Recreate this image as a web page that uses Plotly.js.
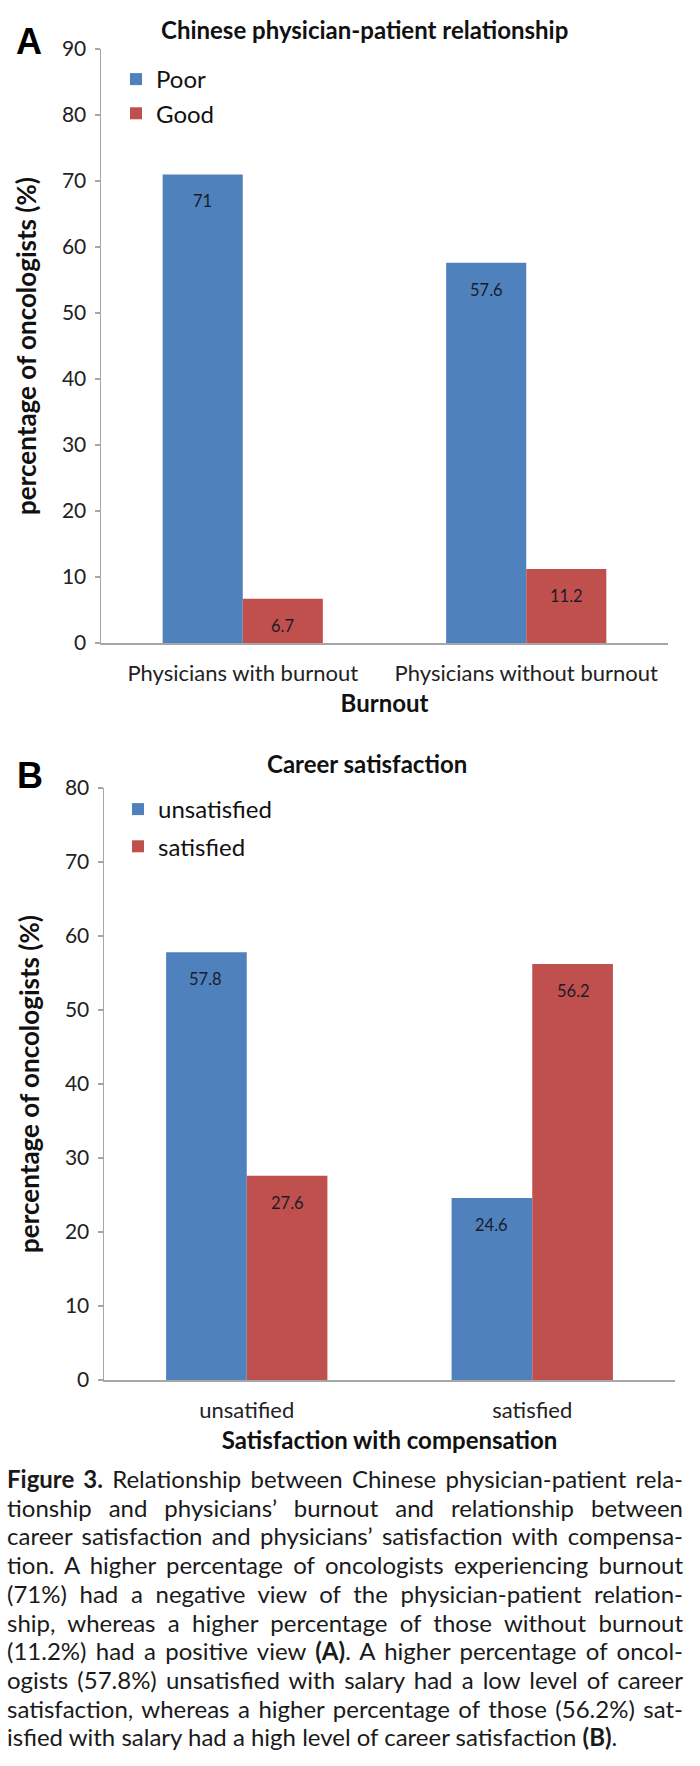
<!DOCTYPE html>
<html>
<head>
<meta charset="utf-8">
<script src="https://cdn.plot.ly/plotly-3.0.1.min.js"></script>
<style>
  html, body { margin: 0; padding: 0; background: #fff; }
  #wrap { position: relative; width: 700px; height: 1766px; }
  #chart { position: absolute; left: 0; top: 0; width: 700px; height: 1766px; }
  #caption { position: absolute; left: 7px; top: 1465px; width: 676px;
    font-family: Lato, "Open Sans", sans-serif; font-size: 24px; line-height: 28.7px; color: #1a1a1a; }
  #caption div { text-align: justify; text-align-last: justify; white-space: nowrap; }
  #caption div.last { text-align-last: left; }
</style>
</head>
<body>
<div id="wrap">
  <div id="chart"></div>
  <div id="caption">
    <div><b>Figure 3.</b> Relationship between Chinese physician-patient rela-</div>
    <div>tionship and physicians’ burnout and relationship between</div>
    <div>career satisfaction and physicians’ satisfaction with compensa-</div>
    <div>tion. A higher percentage of oncologists experiencing burnout</div>
    <div>(71%) had a negative view of the physician-patient relation-</div>
    <div>ship, whereas a higher percentage of those without burnout</div>
    <div>(11.2%) had a positive view <b>(A)</b>. A higher percentage of oncol-</div>
    <div>ogists (57.8%) unsatisfied with salary had a low level of career</div>
    <div>satisfaction, whereas a higher percentage of those (56.2%) sat-</div>
    <div class="last">isfied with salary had a high level of career satisfaction <b>(B)</b>.</div>
  </div>
</div>
<script>
// Panel A data
const categoriesA = ["Physicians with burnout", "Physicians without burnout"];
const poorA = [71, 57.6];
const goodA = [6.7, 11.2];
const seriesNamesA = ["Poor", "Good"];

// Panel B data
const categoriesB = ["unsatified", "satisfied"];
const unsatisfiedB = [57.8, 24.6];
const satisfiedB = [27.6, 56.2];
const seriesNamesB = ["unsatisfied", "satisfied"];

const BLUE = "#4F81BD";
const RED = "#C0504D";
const FONT = "Lato, 'Open Sans', sans-serif";
const H = 1766, W = 700;
const py = p => 1 - p / H;
const px = p => p / W;

const traces = [
  { type: "bar", x: categoriesA, y: poorA, name: seriesNamesA[0], marker: { color: BLUE },
    xaxis: "x", yaxis: "y", legend: "legend", legendgroup: "a1", hoverinfo: "y" },
  { type: "bar", x: categoriesA, y: goodA, name: seriesNamesA[1], marker: { color: RED },
    xaxis: "x", yaxis: "y", legend: "legend", legendgroup: "a2", hoverinfo: "y" },
  { type: "bar", x: categoriesB, y: unsatisfiedB, name: seriesNamesB[0], marker: { color: BLUE },
    xaxis: "x2", yaxis: "y2", legend: "legend2", legendgroup: "b1", hoverinfo: "y" },
  { type: "bar", x: categoriesB, y: satisfiedB, name: seriesNamesB[1], marker: { color: RED },
    xaxis: "x2", yaxis: "y2", legend: "legend2", legendgroup: "b2", hoverinfo: "y" }
];

// value labels inside the top of each bar
const annotations = [];
function addLabels(cats, vals, xref, yref, shift) {
  cats.forEach((c, i) => {
    annotations.push({ x: c, y: vals[i], xref: xref, yref: yref, text: String(vals[i]),
      xanchor: "center", yanchor: "middle",
      showarrow: false, xshift: shift, yshift: -27, font: { family: FONT, size: 16.5, color: "#1b1b2a" } });
  });
}
addLabels(categoriesA, poorA, "x", "y", -40);
addLabels(categoriesA, goodA, "x", "y", 40);
addLabels(categoriesB, unsatisfiedB, "x2", "y2", -41);
addLabels(categoriesB, satisfiedB, "x2", "y2", 41);

// panel titles and letters
const titleFont = { family: FONT, size: 24, color: "#111" };
const letterFont = { family: "Liberation Sans, Arial, sans-serif", size: 36, color: "#000" };
annotations.push(
  { text: "<b>Chinese physician-patient relationship</b>", xref: "paper", yref: "paper",
    x: px(364), y: py(30), xanchor: "center", yanchor: "middle", showarrow: false, font: titleFont },
  { text: "<b>Career satisfaction</b>", xref: "paper", yref: "paper",
    x: px(367), y: py(764), xanchor: "center", yanchor: "middle", showarrow: false, font: titleFont },
  { text: "<b>A</b>", xref: "paper", yref: "paper", x: px(29), y: py(41),
    xanchor: "center", yanchor: "middle", showarrow: false, font: letterFont },
  { text: "<b>B</b>", xref: "paper", yref: "paper", x: px(30), y: py(775),
    xanchor: "center", yanchor: "middle", showarrow: false, font: letterFont }
);

const yAxisCommon = {
  showline: true, linecolor: "#A6A6A6", linewidth: 1.5, ticks: "outside", ticklen: 5,
  tickcolor: "#A6A6A6", tickwidth: 1.5, showgrid: false, zeroline: false, dtick: 10,
  tickfont: { family: FONT, size: 21, color: "#222" }, ticklabelstandoff: 4,
  title: { text: "<b>percentage of oncologists (%)</b>", font: { family: FONT, size: 26, color: "#111" }, standoff: 18 }
};
const xAxisCommon = {
  type: "category", showline: true, linecolor: "#A6A6A6", linewidth: 1.5, ticks: "",
  showgrid: false, zeroline: false, tickfont: { family: FONT, size: 22, color: "#222" },
  ticklabelstandoff: 10
};

const layout = {
  width: W, height: H,
  margin: { l: 0, r: 0, t: 0, b: 0 },
  paper_bgcolor: "#fff", plot_bgcolor: "#fff",
  barmode: "group", bargap: 0.435, bargroupgap: 0,
  showlegend: true,
  xaxis: Object.assign({}, xAxisCommon, { domain: [px(101), px(668)], anchor: "y",
    title: { text: "<b>Burnout</b>", font: titleFont, standoff: 10 } }),
  yaxis: Object.assign({}, yAxisCommon, { domain: [py(643), py(49)], range: [0, 90], anchor: "x" }),
  xaxis2: Object.assign({}, xAxisCommon, { domain: [px(104), px(675)], anchor: "y2",
    title: { text: "<b>Satisfaction with compensation</b>", font: titleFont, standoff: 10 } }),
  yaxis2: Object.assign({}, yAxisCommon, { domain: [py(1380), py(788)], range: [0, 80], anchor: "x2" }),
  legend: { x: px(116), y: py(57), xanchor: "left", yanchor: "top", bgcolor: "rgba(0,0,0,0)",
    font: { family: FONT, size: 24, color: "#111" }, traceorder: "grouped", tracegroupgap: 0 },
  legend2: { x: px(118), y: py(787), xanchor: "left", yanchor: "top", bgcolor: "rgba(0,0,0,0)",
    font: { family: FONT, size: 24, color: "#111" }, traceorder: "grouped", tracegroupgap: 3 },
  annotations: annotations
};

Plotly.newPlot("chart", traces, layout, { displayModeBar: false, staticPlot: true });
</script>
</body>
</html>
